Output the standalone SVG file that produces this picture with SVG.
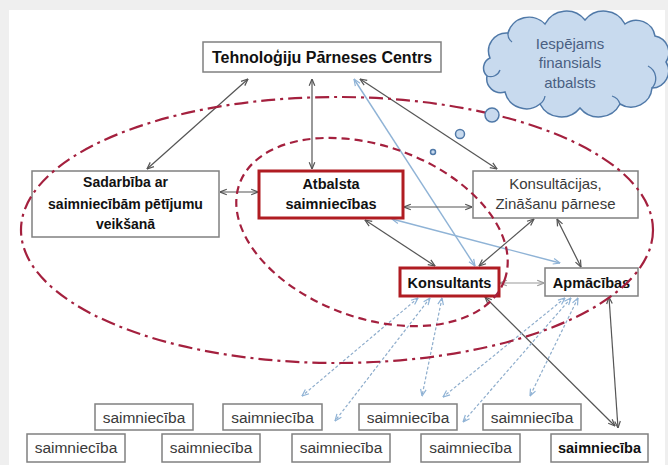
<svg xmlns="http://www.w3.org/2000/svg" width="668" height="465" viewBox="0 0 668 465">
<style>
.box{fill:#fff;stroke:#808080;stroke-width:1.5}
.rbox{fill:#fff;stroke:#b01c22;stroke-width:3}
.t{font-family:"Liberation Sans",Arial,sans-serif;text-anchor:middle}
.b{font-weight:bold;fill:#111}
.r{fill:#3a3a3a}
.c{fill:none;stroke:#555;stroke-width:1.2;marker-start:url(#ad);marker-end:url(#ad)}
.cb{fill:none;stroke:#8fb3d6;stroke-width:1.4;marker-start:url(#ab);marker-end:url(#ab)}
.cg{fill:none;stroke:#9a9a9a;stroke-width:1.2;marker-start:url(#ag);marker-end:url(#ag)}
.cd{fill:none;stroke:#8eadcc;stroke-width:1.2;stroke-dasharray:3 2;marker-start:url(#ab);marker-end:url(#ab)}
.ell{fill:none;stroke:#a4203e;stroke-width:2.2}
.bub{fill:#c8daee;stroke:#5079a8;stroke-width:1.5}
</style>
<defs>
<marker id="ad" viewBox="0 0 10 10" refX="9.5" refY="5" markerWidth="8" markerHeight="8" markerUnits="userSpaceOnUse" orient="auto-start-reverse"><path d="M1,1.5 L9.5,5 L1,8.5" fill="none" stroke="#555" stroke-width="1.5"/></marker>
<marker id="ab" viewBox="0 0 10 10" refX="9.5" refY="5" markerWidth="8" markerHeight="8" markerUnits="userSpaceOnUse" orient="auto-start-reverse"><path d="M1,1.5 L9.5,5 L1,8.5" fill="none" stroke="#8fb3d6" stroke-width="1.5"/></marker>
<marker id="ag" viewBox="0 0 10 10" refX="9.5" refY="5" markerWidth="8" markerHeight="8" markerUnits="userSpaceOnUse" orient="auto-start-reverse"><path d="M1,1.5 L9.5,5 L1,8.5" fill="none" stroke="#9a9a9a" stroke-width="1.5"/></marker>
</defs>
<rect x="0" y="0" width="668" height="465" fill="#efefef"/>
<rect x="9" y="10" width="656" height="455" fill="#ffffff"/>

<g id="connectors">
<line class="c" x1="147" y1="169" x2="248" y2="79"/>
<line class="c" x1="312" y1="79" x2="312" y2="169"/>
<line class="cb" x1="354" y1="79" x2="475" y2="266"/>
<line class="c" x1="360" y1="79" x2="497" y2="169"/>
<line class="c" x1="220" y1="192" x2="258" y2="192"/>
<line class="c" x1="404" y1="207" x2="472" y2="207"/>
<line class="c" x1="365" y1="220" x2="435" y2="266"/>
<line class="cb" x1="392" y1="219" x2="560" y2="263"/>
<line class="c" x1="534" y1="219" x2="479" y2="266"/>
<line class="c" x1="557" y1="219" x2="581" y2="267"/>
<line class="cg" x1="500" y1="283" x2="544" y2="283"/>
<line class="c" x1="485" y1="297" x2="615" y2="426"/>
<line class="c" x1="609" y1="297" x2="618" y2="428"/>
<line class="cd" x1="418" y1="298" x2="302" y2="396"/>
<line class="cd" x1="430" y1="298" x2="335" y2="421"/>
<line class="cd" x1="442" y1="298" x2="422" y2="396"/>
<line class="cd" x1="565" y1="298" x2="443" y2="397"/>
<line class="cd" x1="571" y1="298" x2="463" y2="422"/>
<line class="cd" x1="578" y1="298" x2="530" y2="396"/>
</g>

<g id="tpc"><rect class="box" x="203" y="42" width="238" height="30"/><text class="t b" x="322" y="63" font-size="16">Tehnoloģiju Pārneses Centrs</text></g>
<g id="sadarbiba"><rect class="box" x="32" y="171" width="187" height="66"/>
<text class="t b" font-size="14"><tspan x="125.5" y="187">Sadarbība ar</tspan><tspan x="125.5" y="209">saimniecībām pētījumu</tspan><tspan x="125.5" y="229">veikšanā</tspan></text></g>
<g id="atbalsta"><rect class="rbox" x="259" y="171" width="144" height="47"/>
<text class="t b" font-size="14.5"><tspan x="331" y="189">Atbalsta</tspan><tspan x="331" y="209">saimniecības</tspan></text></g>
<g id="konsultacijas"><rect class="box" x="473" y="171" width="165" height="47"/>
<text class="t r" font-size="15"><tspan x="555.5" y="189">Konsultācijas,</tspan><tspan x="555.5" y="209">Zināšanu pārnese</tspan></text></g>
<g id="konsultants"><rect class="rbox" x="400" y="268" width="99" height="28"/><text class="t b" x="449.5" y="288" font-size="14.5">Konsultants</text></g>
<g id="apmacibas"><rect class="box" x="545" y="268" width="93" height="28"/><text class="t b" x="591.5" y="288" font-size="14.5">Apmācības</text></g>

<g id="s1"><rect class="box" x="95" y="404" width="98" height="26"/><text class="t r" x="144" y="423" font-size="15.5">saimniecība</text></g>
<g id="s2"><rect class="box" x="223" y="404" width="99" height="26"/><text class="t r" x="272.5" y="423" font-size="15.5">saimniecība</text></g>
<g id="s3"><rect class="box" x="359" y="404" width="98" height="26"/><text class="t r" x="408" y="423" font-size="15.5">saimniecība</text></g>
<g id="s4"><rect class="box" x="483" y="404" width="98" height="26"/><text class="t r" x="532" y="423" font-size="15.5">saimniecība</text></g>
<g id="s5"><rect class="box" x="27" y="434" width="98" height="28"/><text class="t r" x="76" y="453" font-size="15.5">saimniecība</text></g>
<g id="s6"><rect class="box" x="162" y="434" width="98" height="28"/><text class="t r" x="211" y="453" font-size="15.5">saimniecība</text></g>
<g id="s7"><rect class="box" x="292" y="434" width="98" height="28"/><text class="t r" x="341" y="453" font-size="15.5">saimniecība</text></g>
<g id="s8"><rect class="box" x="421" y="434" width="99" height="28"/><text class="t r" x="470.5" y="453" font-size="15.5">saimniecība</text></g>
<g id="s9"><rect class="box" x="551" y="434" width="97" height="28"/><text class="t b" x="599.5" y="453" font-size="14.5">saimniecība</text></g>

<g id="ellipses">
<ellipse class="ell" cx="337" cy="230" rx="316" ry="133" stroke-dasharray="14 5 3 5"/>
<ellipse class="ell" cx="372" cy="232" rx="141" ry="86" transform="rotate(20 372 232)" stroke-dasharray="8 5"/>
</g>

<g id="cloud">
<path class="bub" d="M490,58 A18,18 0 0 1 508,33 A22,22 0 0 1 545,24 A24,24 0 0 1 585,20 A24,24 0 0 1 625,24 A19,19 0 0 1 655,36 A17,17 0 0 1 666,62 A17,17 0 0 1 652,88 A21,21 0 0 1 620,104 A24,24 0 0 1 580,108 A24,24 0 0 1 540,104 A22,22 0 0 1 505,92 A14,14 0 0 1 487,76 A11,11 0 0 1 490,58 Z"/>
<path d="M487,76 A10,10 0 0 0 500,70 M652,88 A14,14 0 0 0 648,66 M540,104 A12,12 0 0 0 545,96 M620,104 A12,12 0 0 0 612,96 M508,33 A10,10 0 0 0 512,42" fill="none" stroke="#5079a8" stroke-width="1.3"/>
<text class="t" font-size="15" fill="#4a5f82"><tspan x="570" y="49">Iespējams</tspan><tspan x="570" y="68">finansials</tspan><tspan x="570" y="88">atbalsts</tspan></text>
<circle class="bub" cx="492" cy="115" r="7"/>
<circle class="bub" cx="460" cy="134" r="4.5"/>
<circle class="bub" cx="433" cy="152" r="2.5"/>
</g>
</svg>
